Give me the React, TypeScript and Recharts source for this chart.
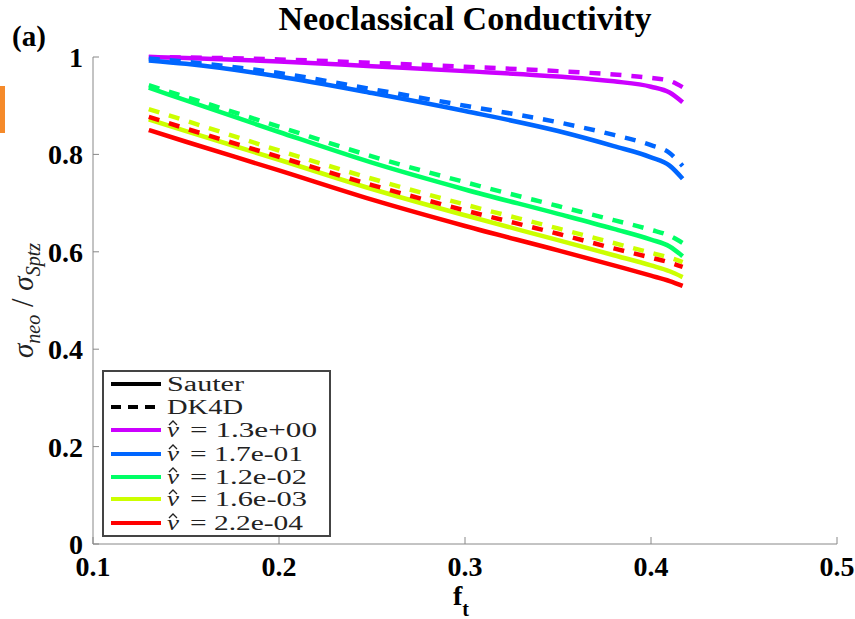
import React from 'react';
import { LineChart, Line, XAxis, YAxis, Legend } from 'recharts';

// trapped particle fraction f_t
const fT = [0.13, 0.15, 0.2, 0.25, 0.3, 0.35, 0.38, 0.4, 0.41, 0.417];

// Sauter fits (solid)
const sauter1 = [1.0, 0.998, 0.991, 0.981, 0.971, 0.96, 0.95, 0.939, 0.927, 0.907];
const sauter2 = [0.993, 0.986, 0.96, 0.926, 0.889, 0.848, 0.817, 0.794, 0.777, 0.75];
const sauter3 = [0.937, 0.911, 0.846, 0.783, 0.728, 0.678, 0.647, 0.625, 0.611, 0.591];
const sauter4 = [0.872, 0.848, 0.789, 0.729, 0.675, 0.624, 0.593, 0.572, 0.56, 0.548];
const sauter5 = [0.85, 0.826, 0.767, 0.707, 0.653, 0.603, 0.572, 0.551, 0.54, 0.53];

// DK4D results (dashed)
const dk1 = [1.0, 0.999, 0.995, 0.988, 0.98, 0.971, 0.964, 0.957, 0.951, 0.938];
const dk2 = [0.997, 0.99, 0.967, 0.934, 0.9, 0.866, 0.84, 0.819, 0.803, 0.776];
const dk3 = [0.942, 0.918, 0.857, 0.796, 0.743, 0.694, 0.665, 0.645, 0.633, 0.618];
const dk4 = [0.893, 0.869, 0.808, 0.75, 0.697, 0.648, 0.618, 0.598, 0.588, 0.579];
const dk5 = [0.877, 0.853, 0.795, 0.737, 0.685, 0.637, 0.607, 0.588, 0.578, 0.569];

const nuLabels = ['1.3e+00', '1.7e-01', '1.2e-02', '1.6e-03', '2.2e-04'];
const nuLabelWidths = [127, 113, 117, 117, 113];
const colors = ['#cc00ff', '#0066ff', '#00ff66', '#ccff00', '#ff0000'];
const xTicks = [0.1, 0.2, 0.3, 0.4, 0.5];
const yTicks = [0, 0.2, 0.4, 0.6, 0.8, 1];

const sauterAll = [sauter1, sauter2, sauter3, sauter4, sauter5];
const dkAll = [dk1, dk2, dk3, dk4, dk5];

const data = fT.map((f, i) => {
  const row: any = { f };
  sauterAll.forEach((s, k) => (row['s' + k] = s[i]));
  dkAll.forEach((d, k) => (row['d' + k] = d[i]));
  return row;
});

const serif = '"Liberation Serif", "Times New Roman", serif';

const LegendBox = () => {
  const rows = [14, 37, 60, 84, 107, 129, 153];
  const txt = { fontSize: 20, fontFamily: serif, fill: '#222', lengthAdjust: 'spacingAndGlyphs' as const };
  return (
    <svg width={229} height={167}>
      <rect x={1} y={1} width={227} height={165} fill="#fff" stroke="#444" strokeWidth={2} />
      <line x1={9} x2={59} y1={rows[0]} y2={rows[0]} stroke="#000" strokeWidth={4} />
      <text x={65} y={rows[0] + 7} {...txt} textLength={77}>Sauter</text>
      <line x1={9} x2={59} y1={rows[1]} y2={rows[1]} stroke="#000" strokeWidth={4} strokeDasharray="10 7" />
      <text x={65} y={rows[1] + 7} {...txt} textLength={76}>DK4D</text>
      {nuLabels.map((lab, k) => {
        const y = rows[k + 2];
        return (
          <g key={lab}>
            <line x1={9} x2={59} y1={y} y2={y} stroke={colors[k]} strokeWidth={4} />
            <text x={65} y={y + 7} {...txt} textLength={12} fontStyle="italic">ν</text>
            <polyline
              points={`${67},${y - 5} ${71},${y - 9} ${75},${y - 5}`}
              fill="none"
              stroke="#222"
              strokeWidth={1.3}
            />
            <text x={88} y={y + 7} {...txt} textLength={nuLabelWidths[k]}>{'= ' + lab}</text>
          </g>
        );
      })}
    </svg>
  );
};

const YLabel = (props: any) => {
  const vb = props.viewBox || { x: 0, y: 57, height: 487 };
  const cy = vb.y + vb.height / 2;
  const bx = 33;
  return (
    <text
      x={bx}
      y={cy}
      transform={`rotate(-90, ${bx}, ${cy})`}
      textAnchor="middle"
      fontFamily={serif}
      fontStyle="italic"
      fontSize={29}
      fill="#222"
    >
      σ<tspan dy={7} fontSize={20}>neo</tspan>
      <tspan dy={-7} fontStyle="normal" fontSize={31}> / </tspan>
      <tspan>σ</tspan>
      <tspan dy={7} fontSize={20}>Sptz</tspan>
    </text>
  );
};

const XLabel = (props: any) => {
  const vb = props.viewBox || { x: 93, y: 544, width: 744 };
  const cx = vb.x + vb.width / 2;
  return (
    <text x={cx - 4} y={vb.y + 61} textAnchor="middle" fontFamily={serif} fontWeight="bold" fontSize={28} fill="#000">
      f<tspan dy={11} fontSize={20}>t</tspan>
    </text>
  );
};

export default function App() {
  return (
    <div style={{ position: 'absolute', left: 0, top: 0, width: 855, height: 619, background: '#fff' }}>
      <div style={{ position: 'absolute', left: 0, top: 86, width: 5, height: 47, background: '#f58a2a' }} />
      <div
        style={{
          position: 'absolute',
          left: 93,
          width: 744,
          top: 0,
          textAlign: 'center',
          fontFamily: serif,
          fontWeight: 'bold',
          fontSize: 34,
          lineHeight: '38px',
        }}
      >
        Neoclassical Conductivity
      </div>
      <div
        style={{
          position: 'absolute',
          left: 12,
          top: 20,
          fontFamily: serif,
          fontWeight: 'bold',
          fontSize: 29,
          lineHeight: '32px',
        }}
      >
        (a)
      </div>
      <LineChart width={855} height={619} data={data} margin={{ top: 57, right: 18, bottom: 0, left: 0 }}>
        <XAxis
          dataKey="f"
          type="number"
          domain={[0.1, 0.5]}
          ticks={xTicks}
          height={75}
          stroke="#888"
          tickSize={-7}
          tickMargin={19}
          tick={{ fill: '#000', fontFamily: serif, fontWeight: 'bold', fontSize: 28 }}
          label={<XLabel />}
        />
        <YAxis
          type="number"
          domain={[0, 1]}
          ticks={yTicks}
          width={93}
          stroke="#888"
          tickSize={-6}
          tickMargin={16}
          tick={{ fill: '#000', fontFamily: serif, fontWeight: 'bold', fontSize: 28 }}
          label={<YLabel />}
        />
        <Legend
          layout="vertical"
          align="center"
          verticalAlign="middle"
          content={() => <LegendBox />}
          wrapperStyle={{ left: 102, top: 370, width: 229, height: 167 }}
        />
        {colors.map((c, k) => (
          <Line
            key={'s' + k}
            type="monotone"
            dataKey={'s' + k}
            stroke={c}
            strokeWidth={4.5}
            dot={false}
            isAnimationActive={false}
          />
        ))}
        {colors.map((c, k) => (
          <Line
            key={'d' + k}
            type="monotone"
            dataKey={'d' + k}
            stroke={c}
            strokeWidth={4.5}
            strokeDasharray="11 10"
            dot={false}
            isAnimationActive={false}
          />
        ))}
      </LineChart>
    </div>
  );
}
